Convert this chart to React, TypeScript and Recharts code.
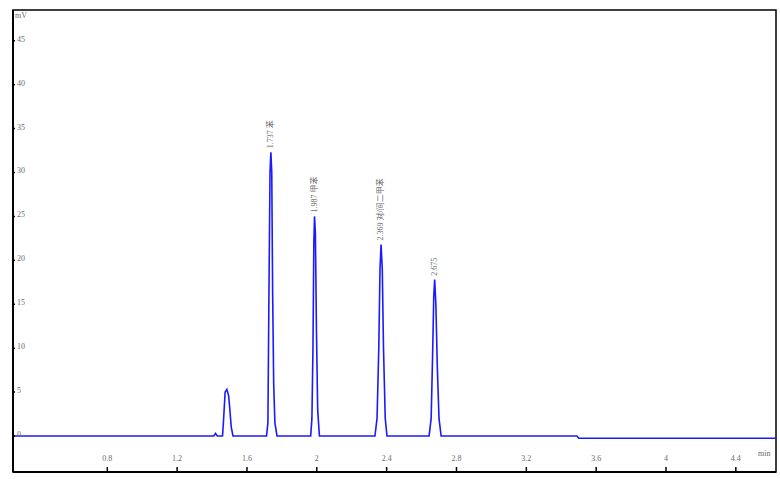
import React from 'react'
import {
  LineChart,
  Line,
  XAxis,
  YAxis,
  ReferenceArea,
  ReferenceDot,
} from 'recharts'

// retention time (min) and detector signal (mV)
const times = [
  0.26, 1.41, 1.42, 1.43, 1.46, 1.465, 1.475, 1.485, 1.495, 1.5, 1.51, 1.52,
  1.712, 1.72, 1.726, 1.732, 1.737, 1.742, 1.747, 1.753, 1.76, 1.772,
  1.965, 1.972, 1.978, 1.983, 1.987, 1.992, 1.998, 2.005, 2.015,
  2.333, 2.345, 2.355, 2.362, 2.368, 2.375, 2.382, 2.392, 2.402,
  2.643, 2.655, 2.663, 2.67, 2.675, 2.682, 2.69, 2.7, 2.712,
  3.49, 3.5, 4.63,
]
const signal = [
  0, 0, 0.3, 0, 0, 1.5, 5.0, 5.3, 4.6, 3.5, 1.0, 0,
  0, 1.5, 16.4, 30, 32.3, 30, 16.4, 6, 1.5, 0,
  0, 2, 10, 22, 25, 23, 12, 3, 0,
  0, 2, 10, 19, 21.8, 19, 10, 2, 0,
  0, 2, 9, 16, 17.8, 15, 8, 2, 0,
  0, -0.25, -0.25,
]

const peakTimes = [1.737, 1.987, 2.368, 2.675]
const peakHeights = [32.3, 25.0, 21.8, 17.8]
const peakNames = ['1.737 苯', '1.987 甲苯', '2.369 对/间二甲苯', '2.675']

const xTicks = [0.8, 1.2, 1.6, 2, 2.4, 2.8, 3.2, 3.6, 4, 4.4]
const yTicks = [0, 5, 10, 15, 20, 25, 30, 35, 40, 45]

const X_MIN = 0.26
const X_MAX = 4.63
const Y_MIN = -4.1
const Y_MAX = 48.5

const FONT = '"Liberation Serif", "DejaVu Serif", "Noto Sans CJK SC", serif'
const LABEL_COLOR = '#6b6b6b'

const data = times.map((t, i) => ({ t, v: signal[i] }))

const renderXTick = (props: any) => {
  const { x, y, payload } = props
  return (
    <g>
      <line x1={x} x2={x} y1={y} y2={y - 5} stroke="#000" strokeWidth={1.5} />
      <text x={x} y={y - 11} textAnchor="middle" fontSize={8} fill={LABEL_COLOR} fontFamily={FONT}>
        {payload.value}
      </text>
    </g>
  )
}

const renderYTick = (props: any) => {
  const { x, y, payload } = props
  return (
    <g>
      <line x1={x} x2={x + 2} y1={y} y2={y} stroke="#000" strokeWidth={1.5} />
      <text x={x + 4} y={y + 1} textAnchor="start" fontSize={8} fill={LABEL_COLOR} fontFamily={FONT}>
        {payload.value}
      </text>
    </g>
  )
}

const PeakLabel = (props: any) => {
  const { viewBox, text } = props
  const x = viewBox.x + 2
  const y = viewBox.y - 4
  return (
    <text
      x={x}
      y={y}
      transform={`rotate(-90 ${x} ${y})`}
      textAnchor="start"
      fontSize={8}
      fill={LABEL_COLOR}
      fontFamily={FONT}
    >
      {text}
    </text>
  )
}

export default function App() {
  return (
    <div style={{ position: 'absolute', left: 0, top: 0, width: 780, height: 479, background: '#fff' }}>
      <LineChart
        width={780}
        height={479}
        data={data}
        margin={{ top: 10, right: 4, bottom: 6, left: 12 }}
      >
        <XAxis
          type="number"
          dataKey="t"
          domain={[X_MIN, X_MAX]}
          ticks={xTicks}
          interval={0}
          allowDataOverflow
          height={1}
          tickSize={0}
          tickMargin={0}
          tick={renderXTick}
          axisLine={{ stroke: '#000', strokeWidth: 2 }}
          tickLine={false}
        />
        <YAxis
          type="number"
          domain={[Y_MIN, Y_MAX]}
          ticks={yTicks}
          interval={0}
          allowDataOverflow
          width={1}
          tickSize={0}
          tickMargin={0}
          tick={renderYTick}
          axisLine={{ stroke: '#000', strokeWidth: 2 }}
          tickLine={false}
        />
        <ReferenceArea
          x1={X_MIN}
          x2={X_MAX}
          y1={Y_MIN}
          y2={Y_MAX}
          fill="none"
          stroke="#000"
          strokeWidth={1.5}
        />
        <Line
          type="linear"
          dataKey="v"
          stroke="#1a1aff"
          strokeWidth={1.6}
          dot={false}
          isAnimationActive={false}
        />
        {peakTimes.map((t, i) => (
          <ReferenceDot
            key={t}
            x={t}
            y={peakHeights[i]}
            r={0}
            stroke="none"
            fill="none"
            label={<PeakLabel text={peakNames[i]} />}
          />
        ))}
      </LineChart>
      <div style={{ position: 'absolute', left: 15, top: 11, fontSize: 8, color: LABEL_COLOR, fontFamily: FONT }}>mV</div>
      <div style={{ position: 'absolute', left: 758, top: 449, fontSize: 8, color: LABEL_COLOR, fontFamily: FONT }}>min</div>
    </div>
  )
}
